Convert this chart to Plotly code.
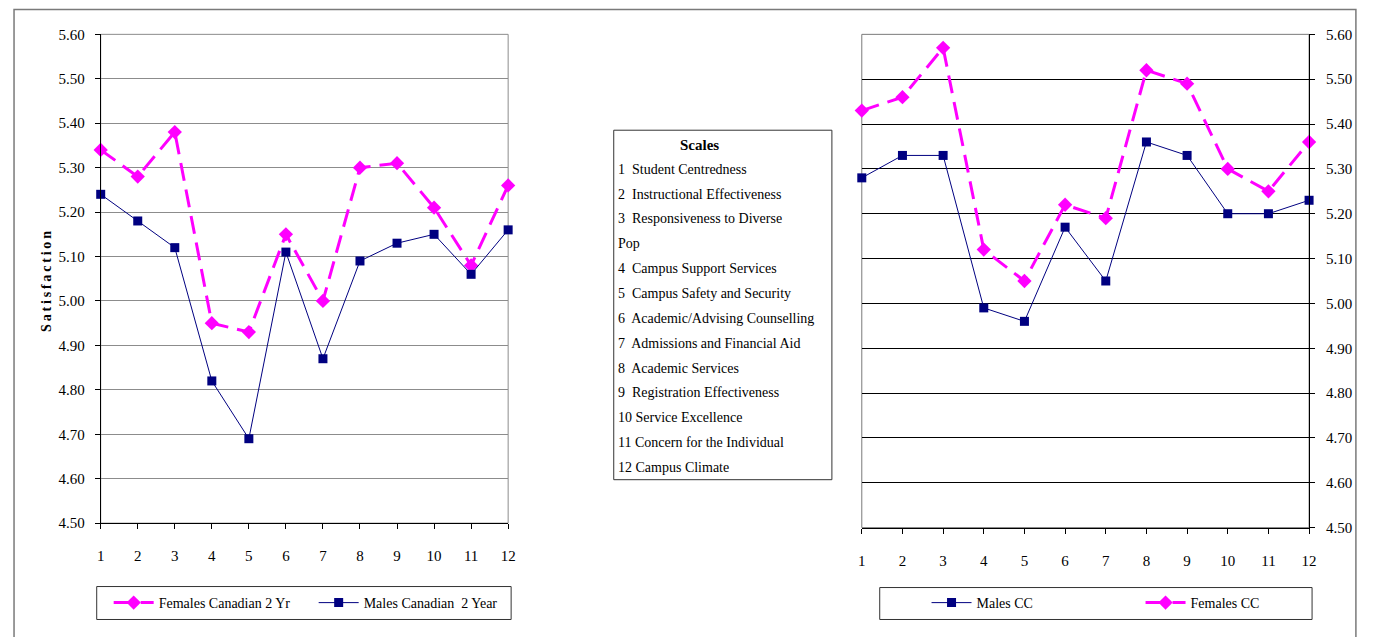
import plotly.graph_objects as go

# ---------------- data ----------------
scales = list(range(1, 13))
females_canadian_2yr = [5.34, 5.28, 5.38, 4.95, 4.93, 5.15, 5.00, 5.30, 5.31, 5.21, 5.08, 5.26]
males_canadian_2yr = [5.24, 5.18, 5.12, 4.82, 4.69, 5.11, 4.87, 5.09, 5.13, 5.15, 5.06, 5.16]
males_cc = [5.28, 5.33, 5.33, 4.99, 4.96, 5.17, 5.05, 5.36, 5.33, 5.20, 5.20, 5.23]
females_cc = [5.43, 5.46, 5.57, 5.12, 5.05, 5.22, 5.19, 5.52, 5.49, 5.30, 5.25, 5.36]
y_ticks = [4.50, 4.60, 4.70, 4.80, 4.90, 5.00, 5.10, 5.20, 5.30, 5.40, 5.50, 5.60]
scale_title = "Scales"
scale_labels = [
    "1  Student Centredness",
    "2  Instructional Effectiveness",
    "3  Responsiveness to Diverse",
    "Pop",
    "4  Campus Support Services",
    "5  Campus Safety and Security",
    "6  Academic/Advising Counselling",
    "7  Admissions and Financial Aid",
    "8  Academic Services",
    "9  Registration Effectiveness",
    "10 Service Excellence",
    "11 Concern for the Individual",
    "12 Campus Climate",
]

# ---------------- layout helpers ----------------
OFFX = 8               # body margin
SX = 0.995             # observed horizontal mapping of the photographed page
W, H = 1381 - 2 * OFFX, 629
SY, OFFY = 0.976, 16   # observed vertical mapping of the photographed page
FONT = "Liberation Serif, Times New Roman, serif"
MAGENTA = "#FF00FF"
NAVY = "#000080"


def px(x):
    return (x / SX - OFFX) / W


def py(y):
    return 1 - (y / SY - OFFY) / H


fem_line = dict(color=MAGENTA, width=3, dash="18px,9px")
fem_marker = dict(symbol="diamond", size=11, color=MAGENTA)
male_line = dict(color=NAVY, width=1)
male_marker = dict(symbol="square", size=9, color=NAVY)

fig = go.Figure()

fig.add_trace(go.Scatter(x=scales, y=females_canadian_2yr, mode="lines+markers",
                         name="Females Canadian 2 Yr", line=fem_line, marker=fem_marker,
                         xaxis="x", yaxis="y", legend="legend", cliponaxis=False))
fig.add_trace(go.Scatter(x=scales, y=males_canadian_2yr, mode="lines+markers",
                         name="Males Canadian\u00a0 2 Year", line=male_line, marker=male_marker,
                         xaxis="x", yaxis="y", legend="legend", cliponaxis=False))
fig.add_trace(go.Scatter(x=scales, y=males_cc, mode="lines+markers",
                         name="Males CC", line=male_line, marker=male_marker,
                         xaxis="x2", yaxis="y2", legend="legend2", cliponaxis=False))
fig.add_trace(go.Scatter(x=scales, y=females_cc, mode="lines+markers",
                         name="Females CC", line=fem_line, marker=fem_marker,
                         xaxis="x2", yaxis="y2", legend="legend2", cliponaxis=False))

tickfont = dict(family=FONT, size=15, color="black")

xaxis_common = dict(range=[1, 12], tickvals=scales, ticks="outside", ticklen=5,
                    tickcolor="black", showline=True, linecolor="black", linewidth=1,
                    showgrid=False, zeroline=False, tickfont=tickfont,
                    ticklabelstandoff=14, fixedrange=True)
yaxis_common = dict(range=[4.5, 5.6], tickvals=y_ticks, tickformat=".2f", ticks="outside",
                    ticklen=5, tickcolor="black", showline=True, linecolor="black",
                    linewidth=1, showgrid=True, gridwidth=1, zeroline=False,
                    tickfont=tickfont, fixedrange=True)

legend_font = dict(family=FONT, size=14, color="black")

fig.update_layout(
    width=W, height=H, autosize=False,
    margin=dict(l=0, r=0, t=0, b=0),
    paper_bgcolor="white", plot_bgcolor="white",
    font=dict(family=FONT, size=14, color="black"),
    xaxis=dict(domain=[px(97), px(506)], anchor="y", **xaxis_common),
    yaxis=dict(domain=[py(523.5), py(34)], anchor="x", gridcolor="#8c8c8c",
               ticklabelstandoff=7, **yaxis_common),
    xaxis2=dict(domain=[px(861), px(1310)], anchor="y2", **xaxis_common),
    yaxis2=dict(domain=[py(528), py(34)], anchor="x2", side="right", gridcolor="black",
                ticklabelstandoff=8, **yaxis_common),
    legend=dict(x=px(105), y=py(603.5), xanchor="left", yanchor="middle",
                orientation="h", borderwidth=0, bgcolor="rgba(0,0,0,0)",
                entrywidth=150, itemwidth=40, font=legend_font),
    legend2=dict(x=px(926), y=py(603.5), xanchor="left", yanchor="middle",
                 orientation="h", borderwidth=0, bgcolor="rgba(0,0,0,0)",
                 entrywidth=159, itemwidth=40, font=legend_font),
    showlegend=True,
)

shapes = [
    # outer frame
    dict(type="rect", xref="paper", yref="paper", x0=px(10), x1=px(1357), y0=-0.05, y1=py(9),
         line=dict(color="#7a7a7a", width=1.5), layer="below"),
    # plot-area borders
    dict(type="rect", xref="x domain", yref="y domain", x0=0, x1=1, y0=0, y1=1,
         line=dict(color="#8c8c8c", width=1), layer="below"),
    dict(type="rect", xref="x2 domain", yref="y2 domain", x0=0, x1=1, y0=0, y1=1,
         line=dict(color="#7a7a7a", width=1), layer="below"),
    # scales box
    dict(type="rect", xref="paper", yref="paper", x0=px(612), x1=px(831), y0=py(480), y1=py(130),
         line=dict(color="#333333", width=1), fillcolor="white", layer="below"),
    # legend boxes
    dict(type="rect", xref="paper", yref="paper", x0=px(93), x1=px(509), y0=py(620), y1=py(587),
         line=dict(color="#333333", width=1), fillcolor="white", layer="below"),
    dict(type="rect", xref="paper", yref="paper", x0=px(879), x1=px(1313), y0=py(620), y1=py(588),
         line=dict(color="#333333", width=1), fillcolor="white", layer="below"),
]
fig.update_layout(shapes=shapes)

annotations = [
    dict(text="<b>S\u2009a\u2009t\u2009i\u2009s\u2009f\u2009a\u2009c\u2009t\u2009i\u2009o\u2009n</b>",
         xref="paper", yref="paper", x=px(43), y=py(281), textangle=-90,
         showarrow=False, font=dict(family=FONT, size=14, color="black"),
         xanchor="center", yanchor="middle"),
    dict(text="<b>" + scale_title + "</b>", xref="paper", yref="paper", x=px(698), y=py(145),
         showarrow=False, font=dict(family=FONT, size=15, color="black"),
         xanchor="center", yanchor="middle"),
]
line_y0 = 169
line_step = 24.9
for i, lab in enumerate(scale_labels):
    annotations.append(dict(text=lab.replace("  ", "\u00a0 "), xref="paper", yref="paper",
                            x=px(614), y=py(line_y0 + i * line_step),
                            showarrow=False, font=dict(family=FONT, size=14, color="black"),
                            xanchor="left", yanchor="middle"))
fig.update_layout(annotations=annotations)

fig.write_html("out.html")
